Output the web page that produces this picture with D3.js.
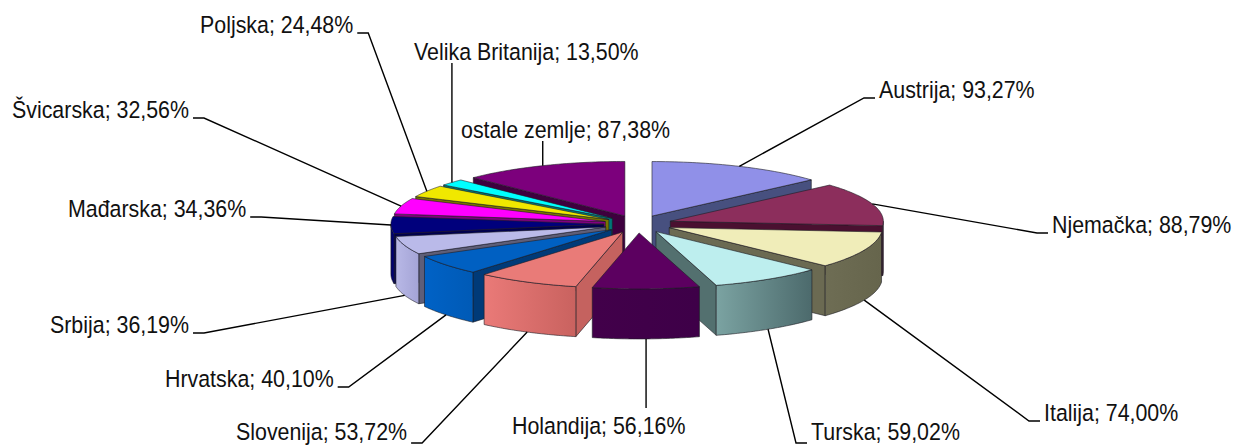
<!DOCTYPE html>
<html>
<head>
<meta charset="utf-8">
<script src="https://cdn.jsdelivr.net/npm/d3@7"></script>
<style>
  html, body { margin: 0; padding: 0; background: #fff; }
  svg { display: block; }
  text { font-family: "Liberation Sans", Arial, sans-serif; font-size: 23.5px; fill: #111; }
</style>
</head>
<body>
<svg id="chart" width="1234" height="445"></svg>
<script>
// Values
const countries = ["Austrija", "Njemačka", "Italija", "Turska", "Holandija", "Slovenija", "Hrvatska",
  "Srbija", "Mađarska", "Švicarska", "Poljska", "Velika Britanija", "ostale zemlje"];
const shares = [93.27, 88.79, 74.00, 59.02, 56.16, 53.72, 40.10, 36.19, 34.36, 32.56, 24.48, 13.50, 87.38];

// Colours: top face, radial side face, outer wall left/right
const topColors = ["#9090e8", "#8c2e5c", "#f0edb9", "#bdeeee", "#5c0060", "#e97b78", "#0060c2", "#babae9", "#00007c", "#ff00ff", "#f0e800", "#00ffff", "#7c007c"];
const sideColors = ["#47507f", "#4a1030", "#6b6a52", "#53706f", "#400048", "#c5625f", "#003a78", "#5e5e78", "#00004e", "#800080", "#787400", "#007878", "#3e003e"];
const wallLeft = ["#47507f", "#5a1a3c", "#6e6d54", "#7ba3a2", "#42004a", "#ea7a78", "#0062c6", "#b8b8e6", "#00006a", "#800080", "#787400", "#007878", "#3e003e"];
const wallRight = ["#47507f", "#4a1030", "#66654c", "#4c6a6c", "#3e0048", "#c9625f", "#005ab6", "#a4a4d6", "#000078", "#800080", "#787400", "#007878", "#3e003e"];

// Label layout: left edge and baseline of each text
const labelX = [879, 1052, 1044, 811, 512, 236, 165, 50, 68, 12, 200, 414, 461];
const labelY = [98, 233, 421, 440, 434, 440, 387, 333, 217, 118, 33, 60, 138];
const labelSide = ["right", "right", "right", "right", "none", "left", "left", "left", "left", "left", "left", "none", "none"];
const textSquash = 0.91;

const svg = d3.select("#chart");
const cx = 638, cy = 224;      // pie centre before explode
const rx = 213;
const ryBack = 54.5, ryFront = 56;  // the front of the pie is a bit nearer
const depth = 50;
const explode = 0.16;

const data = shares.map((v, i) => ({ name: countries[i], value: v, i }));
const arcs = d3.pie().value((d) => d.value).sort(null)(data);

// position on the tilted pie, angle clockwise from the top
const px = (a, r) => Math.sin(a) * rx * r;
const py = (a, r) => -Math.cos(a) * (Math.cos(a) > 0 ? ryBack : ryFront) * r;
const line = d3.line().x((d) => d[0]).y((d) => d[1]);
const rimPoints = (a0, a1, ox, oy, dz) =>
  d3.range(0, 41).map((k) => {
    const a = a0 + ((a1 - a0) * k) / 40;
    return [ox + px(a, 1), oy + py(a, 1) + dz];
  });

arcs.forEach((d) => {
  d.mid = (d.startAngle + d.endAngle) / 2;
  d.ox = cx + px(d.mid, explode);
  d.oy = cy + py(d.mid, explode);
});

const defs = svg.append("defs");
arcs.forEach((d) => {
  const g = defs.append("linearGradient").attr("id", "wall" + d.data.i);
  g.append("stop").attr("offset", "0%").attr("stop-color", wallLeft[d.data.i]);
  g.append("stop").attr("offset", "100%").attr("stop-color", wallRight[d.data.i]);
});

// Back slices first so the front ones paint over them
const ordered = arcs.slice().sort((a, b) => a.oy - b.oy);
const edge = "#1c1c24";

ordered.forEach((d) => {
  const i = d.data.i;
  const g = svg.append("g").attr("class", "slice");
  const a0 = d.startAngle, a1 = d.endAngle;

  // radial side face, visible one only
  const sideAngle = a1 < Math.PI ? a1 : a0 > Math.PI ? a0 : null;
  if (sideAngle !== null) {
    const ex = d.ox + px(sideAngle, 1), ey = d.oy + py(sideAngle, 1);
    g.append("path")
      .attr("d", line([[d.ox, d.oy], [ex, ey], [ex, ey + depth], [d.ox, d.oy + depth]]) + "Z")
      .attr("fill", sideColors[i]).attr("stroke", edge).attr("stroke-width", 0.6);
  }

  // outer wall, front half only
  const w0 = Math.max(a0, Math.PI / 2), w1 = Math.min(a1, (3 * Math.PI) / 2);
  if (w1 > w0) {
    const pts = rimPoints(w0, w1, d.ox, d.oy, 0).concat(rimPoints(w1, w0, d.ox, d.oy, depth));
    g.append("path")
      .attr("d", line(pts) + "Z")
      .attr("fill", `url(#wall${i})`).attr("stroke", edge).attr("stroke-width", 0.6);
  }

  // top face
  g.append("path")
    .attr("d", line([[d.ox, d.oy]].concat(rimPoints(a0, a1, d.ox, d.oy, 0))) + "Z")
    .attr("fill", topColors[i]).attr("stroke", edge).attr("stroke-width", 0.6);
});

// Leader lines start at the rim, at the middle of the slice
arcs.forEach((d) => {
  const i = d.data.i;
  const front = Math.cos(d.mid) < -0.05;
  const ax = d.ox + px(d.mid, 1);
  const ay = d.oy + py(d.mid, 1) + (front ? depth : 0);
  const side = labelSide[i];
  const t = svg.append("text")
    .attr("transform", `translate(${labelX[i]},${labelY[i]}) scale(${textSquash},1)`)
    .text(`${d.data.name}; ${d3.format(".2f")(d.data.value).replace(".", ",")}%`);
  const w = t.node().getComputedTextLength() * textSquash;
  // the two lowest labels sit a little above their elbow
  const ey = labelY[i] >= 440 ? labelY[i] + 3 : labelY[i];
  let pts;
  if (side === "left") {
    const sx = labelX[i] + w + 4;
    pts = [[sx, ey], [sx + 11, ey], [ax, ay]];
  } else if (side === "right") {
    const sx = labelX[i] - 4;
    pts = [[sx, ey], [sx - 11, ey], [ax, ay]];
  } else {
    pts = [[ax, labelY[i] + (i === 4 ? -26 : 3)], [ax, ay]];
  }
  svg.append("path")
    .attr("d", line(pts))
    .attr("fill", "none").attr("stroke", "#000").attr("stroke-width", 1.4);
});
</script>
</body>
</html>
